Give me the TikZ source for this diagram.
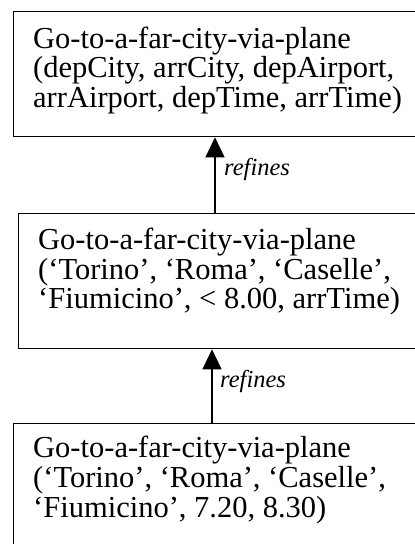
\documentclass[tikz,border=0pt]{standalone}
\usepackage{fontspec}
\setmainfont{Liberation Serif}
\usetikzlibrary{arrows.meta}
\begin{document}
\begin{tikzpicture}[x=1pt,y=1pt,
  box/.style={draw, line width=1.3pt, rectangle, inner sep=0pt, anchor=north west},
  txt/.style={anchor=base west, inner sep=0pt, font=\fontsize{30.5}{29.5}\selectfont},
  lbl/.style={anchor=base west, inner sep=0pt, font=\fontsize{24.5}{26}\selectfont\itshape},
  refarrow/.style={line width=1.3pt, -{Triangle[width=19pt,length=20pt]}}]
\useasboundingbox (0,0) rectangle (415,544);
\clip (0,0) rectangle (415,544);
% boxes (image y -> 544 - y)
\node[box, minimum width=420pt, minimum height=125pt] (b1) at (13,533) {};
\node[box, minimum width=420pt, minimum height=135.3pt] (b2) at (18,331.3) {};
\node[box, minimum width=420pt, minimum height=140pt] (b3) at (13,121) {};
% texts
\node[txt] (t11) at (33,495.5) {Go-to-a-far-city-via-plane};
\node[txt] (t12) at (33,466) {(depCity, arrCity, depAirport,};
\node[txt] (t13) at (33,436.5) {arrAirport, depTime, arrTime)};
\node[txt] (t21) at (38,294) {Go-to-a-far-city-via-plane};
\node[txt] (t22) at (38,264.5) {(‘Torino’, ‘Roma’, ‘Caselle’,};
\node[txt] (t23) at (38,235) {‘Fiumicino’, < 8.00, arrTime)};
\node[txt] (t31) at (33,86) {Go-to-a-far-city-via-plane};
\node[txt] (t32) at (33,56.5) {(‘Torino’, ‘Roma’, ‘Caselle’,};
\node[txt] (t33) at (33,27) {‘Fiumicino’, 7.20, 8.30)};
% connectors
\coordinate (a1) at (215,0);
\coordinate (a2) at (212,0);
\draw[refarrow] (a1 |- b2.north) -- (a1 |- b1.south);
\draw[refarrow] (a2 |- b3.north) -- (a2 |- b2.south);
\node[lbl] (r1) at (224,368) {refines};
\node[lbl] (r2) at (220,156) {refines};
\end{tikzpicture}
\end{document}
